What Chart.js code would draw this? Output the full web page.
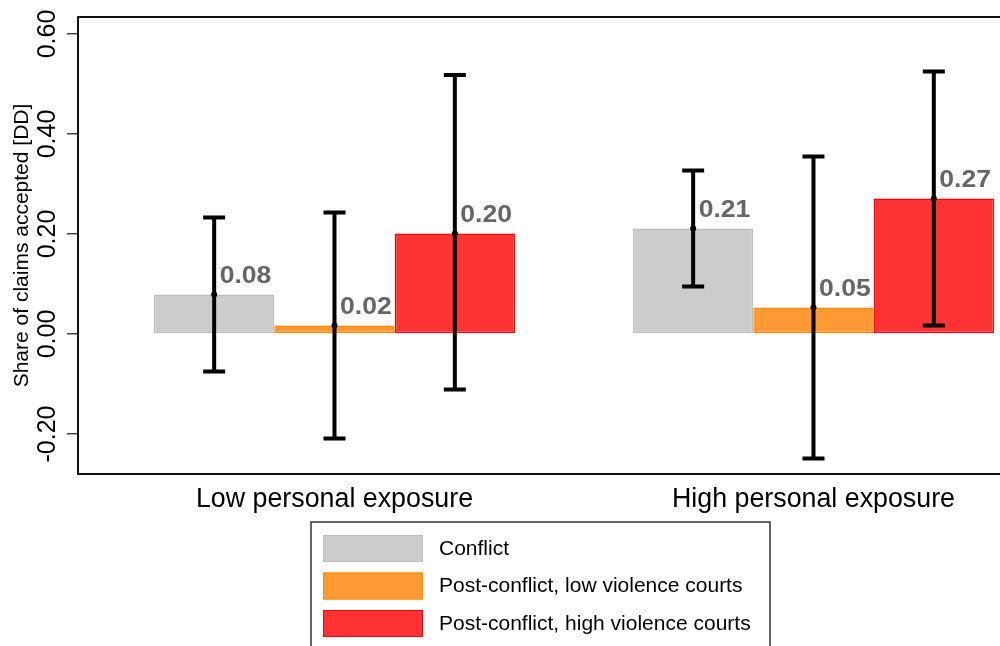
<!DOCTYPE html>
<html>
<head>
<meta charset="utf-8">
<script src="https://cdn.jsdelivr.net/npm/chart.js@4.4.1/dist/chart.umd.min.js"></script>
<style>
  html, body { margin: 0; padding: 0; background: #fff; overflow: hidden; }
  canvas { display: block; }
</style>
</head>
<body>
<canvas id="chart" width="1000" height="646"></canvas>
<script>
// Categories and series
const categories = ['Low personal exposure', 'High personal exposure'];
const seriesNames = ['Conflict', 'Post-conflict, low violence courts', 'Post-conflict, high violence courts'];

// Point estimates
const conflict = [0.079, 0.211];
const postLow  = [0.017, 0.053];
const postHigh = [0.201, 0.271];

// Confidence interval bounds
const conflictLo = [-0.075, 0.095];
const conflictHi = [0.233, 0.327];
const postLowLo  = [-0.209, -0.249];
const postLowHi  = [0.243, 0.355];
const postHighLo = [-0.111, 0.017];
const postHighHi = [0.518, 0.525];

// Axis ticks and title
const yTicks = [-0.2, 0, 0.2, 0.4, 0.6];
const yTitle = 'Share of claims accepted [DD]';

const FONT = "'Liberation Sans', Arial, Helvetica, sans-serif";

function toPoints(values) {
  return values.map((v, i) => ({ x: i, y: v }));
}

const seriesValues = [conflict, postLow, postHigh];
const seriesLo = [conflictLo, postLowLo, postHighLo];
const seriesHi = [conflictHi, postLowHi, postHighHi];
const fills = ['#cccccc', '#ff9933', '#ff3333'];
const strokes = ['#bdbdbd', '#ff8a00', '#ff0000'];

const datasets = seriesNames.map((name, k) => ({
  label: name,
  data: toPoints(seriesValues[k]),
  lo: seriesLo[k],
  hi: seriesHi[k],
  backgroundColor: fills[k],
  borderColor: strokes[k],
  borderWidth: 1.5,
  borderSkipped: false,
  categoryPercentage: 0.7537,
  barPercentage: 1.0
}));

// Error bars, centre dots and value labels
const errorBarPlugin = {
  id: 'errorBars',
  afterDatasetsDraw(chart) {
    const ctx = chart.ctx;
    const ys = chart.scales.y;
    ctx.save();
    chart.data.datasets.forEach((ds, di) => {
      const meta = chart.getDatasetMeta(di);
      meta.data.forEach((el, j) => {
        const x = el.x;
        const yLo = ys.getPixelForValue(ds.lo[j]);
        const yHi = ys.getPixelForValue(ds.hi[j]);
        const yV = ys.getPixelForValue(ds.data[j].y);
        ctx.strokeStyle = '#000';
        ctx.lineWidth = 4;
        ctx.lineCap = 'butt';
        ctx.beginPath();
        ctx.moveTo(x, yLo);
        ctx.lineTo(x, yHi);
        ctx.moveTo(x - 11, yLo);
        ctx.lineTo(x + 11, yLo);
        ctx.moveTo(x - 11, yHi);
        ctx.lineTo(x + 11, yHi);
        ctx.stroke();
        ctx.fillStyle = '#000';
        ctx.beginPath();
        ctx.arc(x, yV, 3, 0, Math.PI * 2);
        ctx.fill();
      });
    });
    chart.data.datasets.forEach((ds, di) => {
      const meta = chart.getDatasetMeta(di);
      meta.data.forEach((el, j) => {
        const v = ds.data[j].y;
        const yV = ys.getPixelForValue(v);
        ctx.save();
        ctx.translate(el.x + 5.5, yV - 12);
        ctx.scale(1.13, 1);
        ctx.font = 'bold 23.5px ' + FONT;
        ctx.fillStyle = '#666666';
        ctx.textAlign = 'left';
        ctx.textBaseline = 'alphabetic';
        ctx.fillText(v.toFixed(2), 0, 0);
        ctx.restore();
      });
    });
    ctx.restore();
  }
};

// Frame top line, rotated y tick labels, y title and the legend box
const decorPlugin = {
  id: 'decor',
  afterDraw(chart) {
    const ctx = chart.ctx;
    const a = chart.chartArea;
    const ys = chart.scales.y;
    ctx.save();
    ctx.strokeStyle = '#111';
    ctx.lineWidth = 2;
    ctx.beginPath();
    ctx.moveTo(a.left - 1, a.top);
    ctx.lineTo(chart.width, a.top);
    ctx.stroke();

    ctx.fillStyle = '#000';
    ctx.font = '25px ' + FONT;
    ctx.textAlign = 'center';
    ctx.textBaseline = 'alphabetic';
    yTicks.forEach(t => {
      const py = ys.getPixelForValue(t);
      ctx.save();
      ctx.translate(55, py);
      ctx.rotate(-Math.PI / 2);
      ctx.fillText(t.toFixed(2), 0, 0);
      ctx.restore();
    });

    ctx.font = '21px ' + FONT;
    ctx.save();
    ctx.translate(28, (a.top + a.bottom) / 2);
    ctx.rotate(-Math.PI / 2);
    ctx.fillText(yTitle, 0, 0);
    ctx.restore();

    // legend
    const lx = 311, ly = 522, lw = 459, lh = 140;
    ctx.strokeStyle = '#333';
    ctx.lineWidth = 1.5;
    ctx.strokeRect(lx, ly, lw, lh);
    const rowY = [535, 572.5, 610];
    chart.data.datasets.forEach((ds, i) => {
      ctx.fillStyle = ds.backgroundColor;
      ctx.fillRect(323, rowY[i], 100, 27);
      ctx.strokeStyle = ds.borderColor;
      ctx.lineWidth = 1;
      ctx.strokeRect(323.5, rowY[i] + 0.5, 99, 26);
      ctx.fillStyle = '#000';
      ctx.font = '21px ' + FONT;
      ctx.textAlign = 'left';
      ctx.textBaseline = 'middle';
      ctx.fillText(ds.label, 439, rowY[i] + 14);
    });
    ctx.restore();
  }
};

new Chart(document.getElementById('chart'), {
  type: 'bar',
  data: { datasets },
  options: {
    responsive: false,
    animation: false,
    devicePixelRatio: 1,
    layout: { padding: { top: 17, left: 0, right: 0, bottom: 0 } },
    plugins: { legend: { display: false }, tooltip: { enabled: false } },
    scales: {
      x: {
        type: 'linear',
        offset: false,
        bounds: 'data',
        min: -0.5355,
        max: 1.3894,
        afterBuildTicks: s => { s.ticks = categories.map((_, i) => ({ value: i })); },
        afterFit: s => { s.height = 172; },
        grid: { display: false, drawTicks: false, offset: false },
        border: { display: true, color: '#111', width: 2 },
        ticks: {
          callback: v => categories[v] || '',
          font: { family: FONT, size: 26.8 },
          color: '#000',
          padding: 10,
          maxRotation: 0,
          autoSkip: false
        }
      },
      y: {
        min: -0.28,
        max: 0.634,
        afterBuildTicks: s => { s.ticks = yTicks.map(v => ({ value: v })); },
        afterFit: s => { s.width = 78; },
        grid: { drawOnChartArea: false, drawTicks: true, tickLength: 11, color: '#444', lineWidth: 1.5 },
        border: { display: true, color: '#111', width: 2 },
        ticks: { display: false }
      }
    }
  },
  plugins: [errorBarPlugin, decorPlugin]
});
</script>
</body>
</html>
